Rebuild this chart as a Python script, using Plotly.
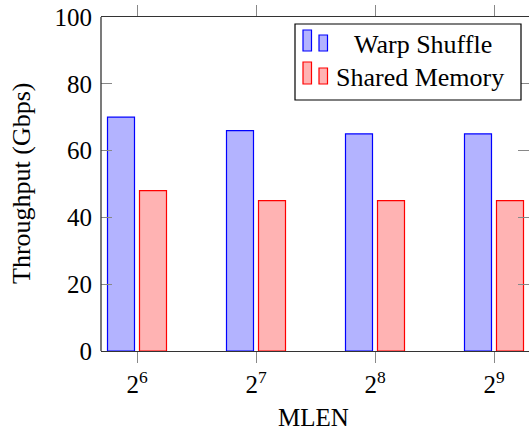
import plotly.graph_objects as go

categories = [6, 7, 8, 9]
tick_labels = ["2<sup>6</sup>", "2<sup>7</sup>", "2<sup>8</sup>", "2<sup>9</sup>"]
warp_shuffle = [70, 66, 65, 65]
shared_memory = [48, 45, 45, 45]
y_ticks = [0, 20, 40, 60, 80, 100]

FONT = "Liberation Serif"
px_per_unit = 119.0
plot_w = 428
x0 = 6 - 36 / px_per_unit
x1 = x0 + plot_w / px_per_unit
bw = 27 / px_per_unit
off = 16 / px_per_unit

fig = go.Figure()
fig.add_trace(go.Bar(
    x=categories, y=warp_shuffle, name="Warp Shuffle",
    width=bw, offset=-off - bw / 2,
    marker=dict(color="rgb(179,179,255)", line=dict(color="rgb(0,0,255)", width=1.2)),
    showlegend=False,
))
fig.add_trace(go.Bar(
    x=categories, y=shared_memory, name="Shared Memory",
    width=bw, offset=off - bw / 2,
    marker=dict(color="rgb(255,179,179)", line=dict(color="rgb(255,0,0)", width=1.2)),
    showlegend=False,
))

fig.update_layout(
    width=529, height=431,
    margin=dict(l=101, r=0, t=17, b=80),
    plot_bgcolor="white", paper_bgcolor="white",
    barmode="overlay",
    font=dict(family=FONT, size=25, color="black"),
    xaxis=dict(
        range=[x0, x1], tickmode="array", tickvals=categories, ticktext=tick_labels,
        ticks="outside", ticklen=11, tickcolor="#888", tickwidth=1,
        showline=True, linecolor="#333", linewidth=1.3, mirror="ticks",
        showgrid=False, zeroline=False,
        tickfont=dict(family=FONT, size=25),
    ),
    yaxis=dict(
        range=[0, 100], tickmode="array", tickvals=y_ticks,
        ticks="inside", ticklen=11, tickcolor="#888", tickwidth=1,
        showline=False, mirror="ticks",
        showgrid=False, zeroline=False,
        ticklabelstandoff=8,
        tickfont=dict(family=FONT, size=25),
    ),
)

# left axis line
fig.add_shape(type="line", xref="paper", yref="paper", x0=0, x1=0, y0=0, y1=1,
              line=dict(color="#333", width=1.3), layer="above")

def px(xp):
    return (xp - 101) / plot_w

def py(yp):
    return (351 - yp) / 334

# axis titles
fig.add_annotation(text="Throughput (Gbps)", xref="paper", yref="paper",
                   x=px(21), y=py(184), textangle=-90, showarrow=False,
                   xanchor="center", yanchor="middle", font=dict(family=FONT, size=26))
fig.add_annotation(text="MLEN", xref="paper", yref="paper",
                   x=px(313), y=py(417), showarrow=False, borderpad=0,
                   xanchor="center", yanchor="middle", font=dict(family=FONT, size=25))

# manual legend
fig.add_shape(type="rect", xref="paper", yref="paper", x0=px(295), x1=px(521), y0=py(100), y1=py(24),
              line=dict(color="black", width=1.2), fillcolor="white", layer="above")
legend_items = [
    ("Warp Shuffle", "rgb(179,179,255)", "rgb(0,0,255)", 30, 35, 51, 352, 44),
    ("Shared Memory", "rgb(255,179,179)", "rgb(255,0,0)", 62, 68, 84, 334, 77),
]
for name, fill, edge, top1, top2, bot, tx, ty in legend_items:
    fig.add_shape(type="rect", xref="paper", yref="paper", x0=px(303), x1=px(311.5), y0=py(bot), y1=py(top1),
                  line=dict(color=edge, width=1.2), fillcolor=fill, layer="above")
    fig.add_shape(type="rect", xref="paper", yref="paper", x0=px(319), x1=px(327.5), y0=py(bot), y1=py(top2),
                  line=dict(color=edge, width=1.2), fillcolor=fill, layer="above")
    fig.add_annotation(text=name, xref="paper", yref="paper", x=px(tx), y=py(ty), showarrow=False,
                       xanchor="left", yanchor="middle", font=dict(family=FONT, size=26))

fig.write_html("out.html", config={"displayModeBar": False},
               post_script="document.body.style.margin='0';document.body.style.overflow='hidden';")
